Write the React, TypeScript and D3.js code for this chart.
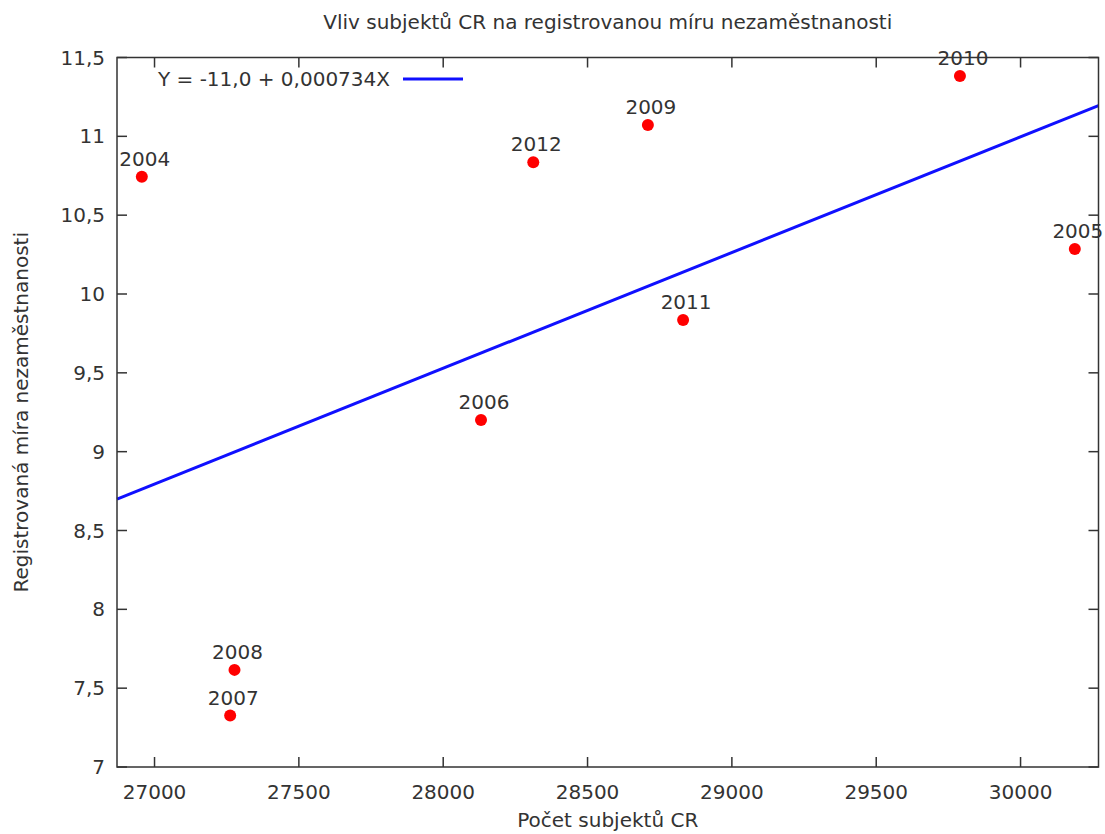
import { useEffect, useRef } from 'react';
import * as d3 from 'd3';

const years = ['2004', '2005', '2006', '2007', '2008', '2009', '2010', '2011', '2012'];
const subjects = [26956, 30188, 28131, 27262, 27277, 28709, 29790, 28831, 28312];
const unemployment = [10.744, 10.286, 9.201, 7.326, 7.616, 11.072, 11.383, 9.835, 10.835];
const xTicks = [27000, 27500, 28000, 28500, 29000, 29500, 30000];
const yTicks = [7, 7.5, 8, 8.5, 9, 9.5, 10, 10.5, 11, 11.5];
const legendIntercept = -11.0;
const slope = 0.000734;

const W = 1105;
const H = 834;
const FONT = '"DejaVu Sans", Verdana, sans-serif';
const FS = 20;
const INK = '#333';

export default function App() {
  const svgRef = useRef<SVGSVGElement>(null);

  useEffect(() => {
    if (!svgRef.current) return;
    const margin = { top: 57.5, right: 6.5, bottom: 67, left: 117 };
    const iw = W - margin.left - margin.right;
    const ih = H - margin.top - margin.bottom;

    const svg = d3.select(svgRef.current);
    svg.selectAll('*').remove();

    const x = d3.scaleLinear().domain([26870, 30270]).range([0, iw]);
    const y = d3.scaleLinear().domain([7, 11.5]).range([ih, 0]);
    const comma = (v: number) => String(v).replace('.', ',');

    svg.append('text')
      .attr('x', margin.left + iw / 2).attr('y', 29)
      .attr('text-anchor', 'middle').attr('font-family', FONT).attr('font-size', FS)
      .attr('fill', INK).text('Vliv subjektů CR na registrovanou míru nezaměstnanosti');

    const g = svg.append('g').attr('transform', `translate(${margin.left},${margin.top})`);

    // ticks on all four sides, pointing inward
    const tickLen = 10;
    g.selectAll('.xt-b').data(xTicks).enter().append('line')
      .attr('x1', (d) => x(d)).attr('x2', (d) => x(d)).attr('y1', ih).attr('y2', ih - tickLen)
      .attr('stroke', INK).attr('stroke-width', 1.5);
    g.selectAll('.xt-t').data(xTicks).enter().append('line')
      .attr('x1', (d) => x(d)).attr('x2', (d) => x(d)).attr('y1', 0).attr('y2', tickLen)
      .attr('stroke', INK).attr('stroke-width', 1.5);
    g.selectAll('.yt-l').data(yTicks).enter().append('line')
      .attr('x1', 0).attr('x2', tickLen).attr('y1', (d) => y(d)).attr('y2', (d) => y(d))
      .attr('stroke', INK).attr('stroke-width', 1.5);
    g.selectAll('.yt-r').data(yTicks).enter().append('line')
      .attr('x1', iw).attr('x2', iw - tickLen).attr('y1', (d) => y(d)).attr('y2', (d) => y(d))
      .attr('stroke', INK).attr('stroke-width', 1.5);

    g.selectAll('.xl').data(xTicks).enter().append('text')
      .attr('x', (d) => x(d)).attr('y', ih + 25).attr('dy', '0.35em')
      .attr('text-anchor', 'middle').attr('font-family', FONT).attr('font-size', FS)
      .attr('fill', INK).text((d) => String(d));
    g.selectAll('.yl').data(yTicks).enter().append('text')
      .attr('x', -12).attr('y', (d) => y(d)).attr('dy', '0.35em')
      .attr('text-anchor', 'end').attr('font-family', FONT).attr('font-size', FS)
      .attr('fill', INK).text((d) => comma(d));

    // regression line through the data mean with the reported slope
    const intercept = (d3.mean(unemployment) ?? 0) - slope * (d3.mean(subjects) ?? 0);
    const [x0, x1] = x.domain();
    g.append('line')
      .attr('x1', x(x0)).attr('y1', y(intercept + slope * x0))
      .attr('x2', x(x1)).attr('y2', y(intercept + slope * x1))
      .attr('stroke', '#1010ff').attr('stroke-width', 3);

    // points + year labels
    const pts = years.map((yr, i) => ({ yr, sx: subjects[i], u: unemployment[i] }));
    g.selectAll('.pt').data(pts).enter().append('circle')
      .attr('cx', (d) => x(d.sx)).attr('cy', (d) => y(d.u)).attr('r', 6).attr('fill', '#ff0000');
    g.selectAll('.pl').data(pts).enter().append('text')
      .attr('x', (d) => x(d.sx) + 3).attr('y', (d) => y(d.u) - 11)
      .attr('text-anchor', 'middle').attr('font-family', FONT).attr('font-size', FS)
      .attr('fill', INK).text((d) => d.yr);

    // frame
    g.append('rect').attr('width', iw).attr('height', ih)
      .attr('fill', 'none').attr('stroke', INK).attr('stroke-width', 1.5);

    // legend
    g.append('text')
      .attr('x', 273).attr('y', 21.5).attr('dy', '0.35em')
      .attr('text-anchor', 'end').attr('font-family', FONT).attr('font-size', FS)
      .attr('fill', INK).text(`Y = ${comma(legendIntercept)},0 + ${comma(slope)}X`);
    g.append('line')
      .attr('x1', 286).attr('x2', 346).attr('y1', 21.5).attr('y2', 21.5)
      .attr('stroke', '#1010ff').attr('stroke-width', 3);

    // axis titles
    svg.append('text')
      .attr('x', margin.left + iw / 2).attr('y', 827)
      .attr('text-anchor', 'middle').attr('font-family', FONT).attr('font-size', FS)
      .attr('fill', INK).text('Počet subjektů CR');
    svg.append('text')
      .attr('transform', `translate(28,${margin.top + ih / 2}) rotate(-90)`)
      .attr('text-anchor', 'middle').attr('font-family', FONT).attr('font-size', FS)
      .attr('fill', INK).text('Registrovaná míra nezaměstnanosti');
  }, []);

  return (
    <div style={{ position: 'absolute', left: 0, top: 0 }}>
      <svg ref={svgRef} width={W} height={H} style={{ display: 'block', background: '#fff' }} />
    </div>
  );
}
